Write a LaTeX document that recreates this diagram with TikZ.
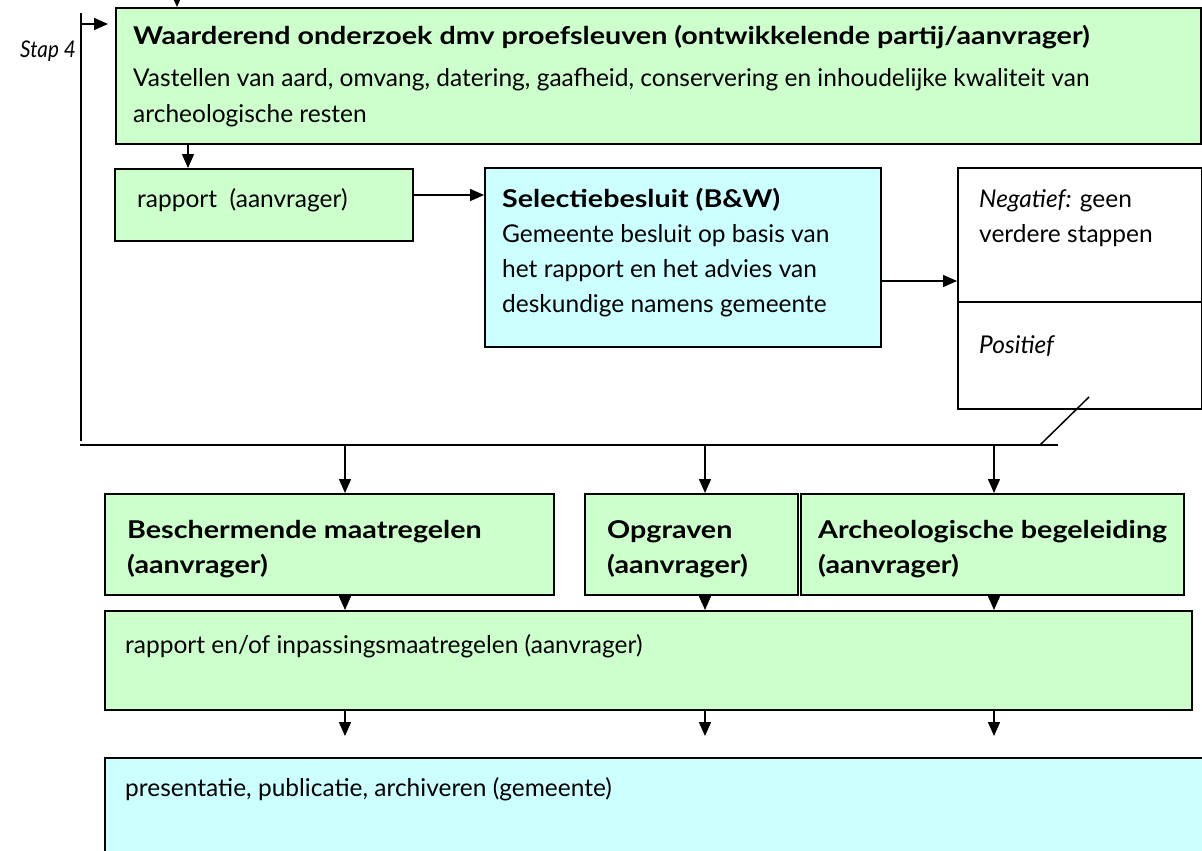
\documentclass[tikz,border=0pt]{standalone}
\usepackage{fontspec}
\setmainfont{Lato}[BoldFeatures={FakeStretch=1.17}]
\usetikzlibrary{arrows.meta}
\definecolor{boxgreen}{HTML}{CCFFCC}
\definecolor{boxcyan}{HTML}{CCFFFF}
\begin{document}
\begin{tikzpicture}[x=1pt,y=-1pt,
  box/.style={draw=black,line width=1.6pt,inner sep=0pt,anchor=north west},
  gbox/.style={box,fill=boxgreen},
  cbox/.style={box,fill=boxcyan},
  wbox/.style={box,fill=white},
  txt/.style={inner sep=0pt,anchor=base west,font=\fontsize{24.5}{29}\selectfont},
  arr/.style={line width=1.5pt,-{Triangle[length=14pt,width=12pt]}},
  ln/.style={line width=1.5pt}]
\clip (0,0) rectangle (1202,851);
% boxes
\node[gbox,minimum width=1085pt,minimum height=136pt] (top) at (115,7) {};
\node[gbox,minimum width=298pt,minimum height=72pt] (rap) at (114,168) {};
\node[cbox,minimum width=396pt,minimum height=179pt] (sel) at (484,167) {};
\node[wbox,minimum width=244pt,minimum height=241pt] (np) at (957,167) {};
\node[gbox,minimum width=449pt,minimum height=101pt] (besch) at (104,493) {};
\node[gbox,minimum width=213pt,minimum height=101pt] (opg) at (584,493) {};
\node[gbox,minimum width=383pt,minimum height=101pt] (arch) at (800,493) {};
\node[gbox,minimum width=1087pt,minimum height=99pt] (rapen) at (104,610) {};
\node[cbox,minimum width=1120pt,minimum height=120pt] (pres) at (104,757) {};
% coordinates
\coordinate (dv) at (0,302);
\coordinate (ry) at (0,195);
\coordinate (sy) at (0,281);
\coordinate (topin) at (177,-12);
\coordinate (topx) at (188,0);
\coordinate (L1) at (81,13);
\coordinate (L2) at (81,441);
\coordinate (La) at (81,24);
\coordinate (H1) at (80,445);
\coordinate (H2) at (1058,445);
\coordinate (D1) at (1040,445);
\coordinate (D2) at (1089,397);
\coordinate (xa) at (345,0);
\coordinate (xb) at (705,0);
\coordinate (xc) at (994,0);
\coordinate (ea) at (345,736);
\coordinate (eb) at (705,736);
\coordinate (ec) at (994,736);
% divider in neg/pos box
\draw[ln] (np.west |- dv) -- (np.east |- dv);
% connectors
\draw[arr] (topin) -- (topin |- top.north);
\draw[ln] (L1) -- (L2);
\draw[arr] (La) -- ([xshift=-7pt]top.west |- La);
\draw[arr] (top.south -| topx) -- (rap.north -| topx);
\draw[arr] (rap.east |- ry) -- (sel.west |- ry);
\draw[arr] (sel.east |- sy) -- (np.west |- sy);
\draw[ln] (H1) -- (H2);
\draw[ln] (D1) -- (D2);
\draw[arr] (H1 -| xa) -- (besch.north -| xa);
\draw[arr] (H1 -| xb) -- (opg.north -| xb);
\draw[arr] (H1 -| xc) -- (arch.north -| xc);
\draw[arr] ([yshift=-6pt]besch.south -| xa) -- (rapen.north -| xa);
\draw[arr] ([yshift=-6pt]opg.south -| xb) -- (rapen.north -| xb);
\draw[arr] ([yshift=-6pt]arch.south -| xc) -- (rapen.north -| xc);
\draw[arr] (rapen.south -| xa) -- (ea);
\draw[arr] (rapen.south -| xb) -- (eb);
\draw[arr] (rapen.south -| xc) -- (ec);
% texts
\node[txt,anchor=base east,font=\fontsize{23}{27}\selectfont] (stap) at (76,58) {\itshape\addfontfeature{FakeStretch=0.9}Stap 4};
\node[txt] (t1) at (133,45) {\bfseries Waarderend onderzoek dmv proefsleuven (ontwikkelende partij/aanvrager)};
\node[txt] (t2) at (133,86) {Vastellen van aard, omvang, datering, gaafheid, conservering en inhoudelijke kwaliteit van};
\node[txt] (t3) at (133,122) {archeologische resten};
\node[txt] (r1) at (137,207) {rapport\ \ (aanvrager)};
\node[txt] (s1) at (502,207) {\bfseries Selectiebesluit (B\&W)};
\node[txt] (s2) at (502,242) {Gemeente besluit op basis van};
\node[txt] (s3) at (502,277) {het rapport en het advies van};
\node[txt] (s4) at (502,312) {deskundige namens gemeente};
\node[txt] (n1) at (979,207) {\textit{Negatief:} geen};
\node[txt] (n2) at (979,242) {verdere stappen};
\node[txt] (p1) at (979,353) {\itshape Positief};
\node[txt] (b1) at (127,538) {\bfseries Beschermende maatregelen};
\node[txt] (b2) at (127,573) {\bfseries (aanvrager)};
\node[txt] (o1) at (607,538) {\bfseries Opgraven};
\node[txt] (o2) at (607,573) {\bfseries (aanvrager)};
\node[txt] (a1) at (818,538) {\bfseries Archeologische begeleiding};
\node[txt] (a2) at (818,573) {\bfseries (aanvrager)};
\node[txt] (re1) at (125,653) {rapport en/of inpassingsmaatregelen (aanvrager)};
\node[txt] (pr1) at (125,796) {presentatie, publicatie, archiveren (gemeente)};
\end{tikzpicture}
\end{document}
